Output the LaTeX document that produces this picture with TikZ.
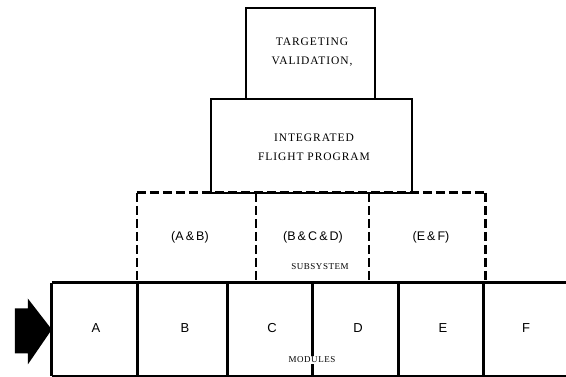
\documentclass[tikz,border=0pt]{standalone}
\usepackage{fontspec}
\setmainfont{Liberation Serif}
\setsansfont{Liberation Sans}
\newfontfamily\lblfont[LetterSpace=8]{Liberation Serif}
\newfontfamily\capfont[LetterSpace=6]{Liberation Serif}
\begin{document}
\begin{tikzpicture}[x=1pt,y=-1pt,
  solidbox/.style={draw, line width=1.4pt, inner sep=0pt},
  dashline/.style={line width=2.6pt, dash pattern=on 9pt off 4pt},
  cell/.style={inner sep=0pt},
  modline/.style={line width=3pt},
  title/.style={font=\lblfont\fontsize{11.5}{19}\selectfont, align=center},
  small/.style={font=\capfont\fontsize{9}{10}\selectfont},
  letter/.style={font=\sffamily\fontsize{13}{14}\selectfont},
  group/.style={font=\sffamily\fontsize{12.5}{14}\selectfont}]
\useasboundingbox (0,0) rectangle (566,377);
% upper boxes
\node[solidbox, minimum width=129pt, minimum height=91pt] (tv) at (310.5,53.5) {};
\node[title] (tvt) at (312,52) {TARGETING\\VALIDATION,};
\node[solidbox, minimum width=201pt, minimum height=94pt] (ifp) at (311.5,146) {};
\node[title] (ifpt) at (314,147) {INTEGRATED\\FLIGHT PROGRAM};
% subsystems
\node[cell, minimum width=119pt, minimum height=90pt] (ab) at (196.5,238) {};
\node[cell, minimum width=113pt, minimum height=90pt] (bcd) at (312.5,238) {};
\node[cell, minimum width=116pt, minimum height=90pt] (ef) at (427,238) {};
\draw[dashline] (ab.north west) -- (ef.north east);
\draw[dashline] (ab.north west) -- (ab.south west);
\draw[dashline] (bcd.north west) -- (bcd.south west);
\draw[dashline] (ef.north west) -- (ef.south west);
\draw[dashline] (ef.north east) -- (ef.south east);
\node[group] (abt) at (190,237) {(A\,\&\,B)};
\node[group] (bcdt) at (313,237) {(B\,\&\,C\,\&\,D)};
\node[group] (eft) at (431,237) {(E\,\&\,F)};
\node[small] (sub) at (320,267) {SUBSYSTEM};
% modules
\node[cell, minimum width=86pt, minimum height=93pt] (A) at (95,329.5) {};
\node[cell, minimum width=90pt, minimum height=93pt] (B) at (183,329.5) {};
\node[cell, minimum width=85pt, minimum height=93pt] (C) at (270.5,329.5) {};
\node[cell, minimum width=86pt, minimum height=93pt] (D) at (356,329.5) {};
\node[cell, minimum width=85pt, minimum height=93pt] (E) at (441.5,329.5) {};
\node[cell, minimum width=82pt, minimum height=93pt] (F) at (525,329.5) {};
\node[letter] at (96,328) {A};
\node[letter] at (185,328) {B};
\node[letter] at (272,328) {C};
\node[letter] at (358,328) {D};
\node[letter] at (443,328) {E};
\node[letter] at (526,328) {F};
\draw[modline] (A.north west) -- (F.north east);
\draw[modline] (A.south west) -- (F.south east);
\draw[modline] (A.north west) -- (A.south west);
\foreach \n in {B,C,D,E,F} \draw[modline] (\n.north west) -- (\n.south west);
\node[small, fill=white, inner sep=1pt] (mod) at (312,360) {MODULES};
% input arrow
\fill (A.west) -- ++(-24,-31) -- ++(0,10) -- ++(-13,0) -- ++(0,45) -- ++(13,0) -- ++(0,11) -- cycle;
\end{tikzpicture}
\end{document}
